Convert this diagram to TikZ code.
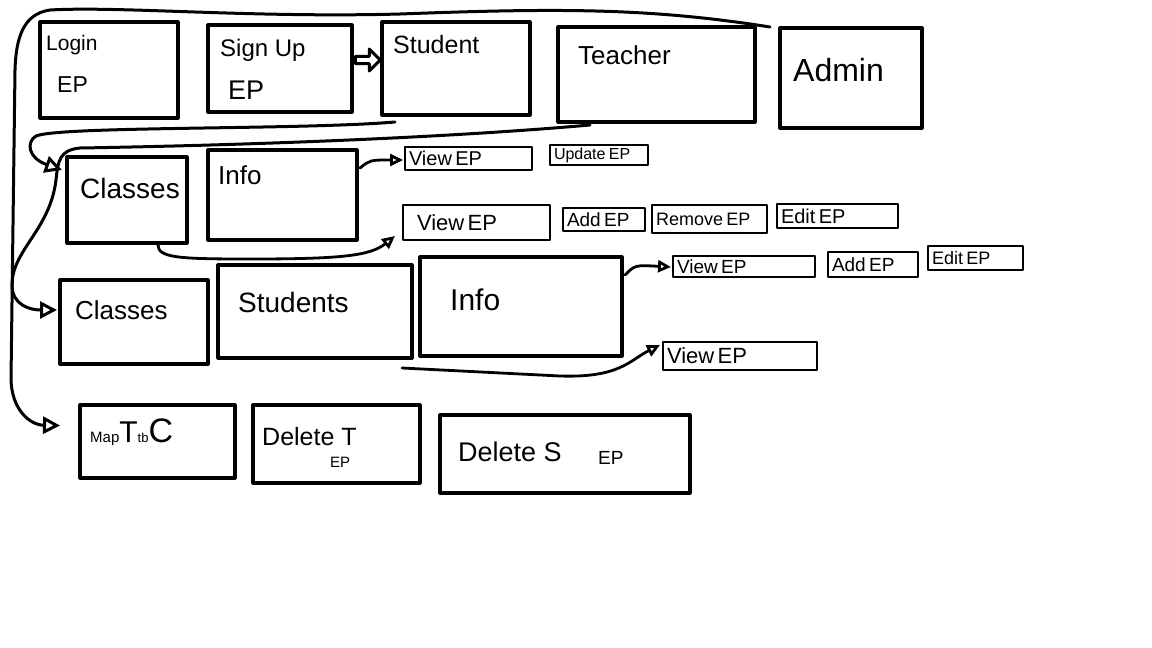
\documentclass[tikz,border=0pt]{standalone}
\usepackage{fontspec}
\setmainfont{Liberation Sans}
\usetikzlibrary{arrows.meta,shapes.arrows}
\newcommand{\fs}[1]{\fontsize{#1}{#1}\selectfont}
\begin{document}
\begin{tikzpicture}[x=1pt,y=-1pt,
  box/.style={draw,line width=3.2pt,inner sep=0pt,outer sep=0pt},
  ep/.style={draw,line width=2.8pt,inner ysep=0pt,inner xsep=4pt,outer sep=0pt,align=left},
  lbl/.style={anchor=west,inner sep=0pt},
  conn/.style={line width=3pt,line cap=round,-{Triangle[open,length=17pt,width=17pt,line width=3pt]}},
  sconn/.style={line width=2.8pt,line cap=round,-{Triangle[open,length=13pt,width=12pt,line width=2.8pt]}},
  line join=round]
\useasboundingbox (0,0) rectangle (1152,648);
\fill[white] (0,0) rectangle (1152,648);

% row 1
\node[box,minimum width=138pt,minimum height=96pt] (login) at (109,70) {};
\node[box,minimum width=144pt,minimum height=87pt] (signup) at (280,68.5) {};
\node[box,minimum width=148pt,minimum height=93pt] (student) at (456,68.5) {};
\node[box,minimum width=197pt,minimum height=95pt] (teacher) at (656.5,74.5) {};
\node[box,minimum width=142pt,minimum height=100pt] (admin) at (851,78) {};
\node[lbl] (loginT) at (46,45) {\fs{21}Login};
\node[lbl] (loginEP) at (57,85) {\fs{23}EP};
\node[lbl] (signupT) at (220,50) {\fs{24}Sign Up};
\node[lbl] (signupEP) at (228,90) {\fs{27}EP};
\node[lbl] (studentT) at (393,45) {\fs{25}Student};
\node[lbl] (teacherT) at (578,55) {\fs{26}Teacher};
\node[lbl] (adminT) at (793,70) {\fs{32}Admin};
\node[draw,single arrow,line width=3pt,minimum height=25pt,minimum width=22pt,single arrow head extend=3pt,inner sep=0pt] (blk) at (366,60) {};

% row 2
\node[box,minimum width=120pt,minimum height=86pt] (classes2) at (127,200) {};
\node[box,minimum width=149pt,minimum height=90pt] (info2) at (282.5,195) {};
\node[lbl] (classes2T) at (80,188) {\fs{28}Classes};
\node[lbl] (info2T) at (218,175) {\fs{26}Info};
\node[ep,text width=119pt,minimum height=23pt] (viewA) at (468.5,158.5) {\fs{20}View EP};
\node[ep,text width=90pt,minimum height=20pt] (update) at (599,155) {\fs{16}Update EP};
\node[ep,text width=139pt,minimum height=35pt] (viewB) at (476.5,222.5) {\hspace*{10pt}\fs{22}View EP};
\node[ep,text width=74pt,minimum height=23pt] (addA) at (604,219.5) {\fs{19}Add EP};
\node[ep,text width=107pt,minimum height=28pt] (remove) at (709.5,219) {\fs{18}Remove EP};
\node[ep,text width=113pt,minimum height=24pt] (editA) at (837.5,216) {\fs{20}Edit EP};

% row 3
\node[box,minimum width=148pt,minimum height=84pt] (classes3) at (134,322) {};
\node[box,minimum width=194pt,minimum height=93pt] (students3) at (315,311.5) {};
\node[box,minimum width=202pt,minimum height=99pt] (info3) at (521,306.5) {};
\node[lbl] (classes3T) at (75,310) {\fs{26}Classes};
\node[lbl] (students3T) at (238,302) {\fs{28}Students};
\node[lbl] (info3T) at (450,300) {\fs{30}Info};
\node[ep,text width=134pt,minimum height=21pt] (viewC) at (744,266.5) {\fs{19}View EP};
\node[ep,text width=82pt,minimum height=25pt] (addB) at (873,264.5) {\fs{19}Add EP};
\node[ep,text width=87pt,minimum height=24pt] (editB) at (975.5,258) {\fs{18}Edit EP};
\node[ep,text width=146pt,minimum height=28pt] (viewD) at (740,356) {\fs{22}View EP};

% row 4
\node[box,minimum width=155pt,minimum height=73pt] (map) at (157.5,441.5) {};
\node[box,minimum width=167pt,minimum height=78pt] (delT) at (336.5,444) {};
\node[box,minimum width=250pt,minimum height=78pt] (delS) at (565,454) {};
\node[lbl] (mapT) at (90,432) {\fs{15}Map\fs{30}T\fs{13}tb\fs{34}C};
\node[lbl] (delTT) at (262,437) {\fs{25}Delete T};
\node[lbl] (delTEP) at (330,462) {\fs{15}EP};
\node[lbl] (delST) at (458,452) {\fs{27}Delete S};
\node[lbl] (delSEP) at (598,458) {\fs{19}EP};

% connector end points
\coordinate (s1) at ([xshift=13pt,yshift=-7pt]student.south west);
\coordinate (e1) at ([xshift=-5pt,yshift=-13pt]classes2.north west);
\coordinate (s2) at ([xshift=32pt,yshift=-3pt]teacher.south west);
\coordinate (e2) at ([xshift=-3pt,yshift=12pt]classes3.west);
\coordinate (s3) at ([xshift=-10pt,yshift=1pt]admin.north west);
\coordinate (e3) at ([xshift=-20pt,yshift=16pt]map.west);
\coordinate (s4) at ([xshift=3pt,yshift=-18pt]info2.north east);
\coordinate (e4) at ([xshift=-2pt,yshift=-1.5pt]viewA.west);
\coordinate (s5) at ([xshift=-29pt,yshift=-2pt]classes2.south east);
\coordinate (e5) at ([xshift=-8pt,yshift=-13.5pt]viewB.west);
\coordinate (s6) at ([xshift=3pt,yshift=-18pt]info3.north east);
\coordinate (e6) at ([xshift=-2pt,yshift=-0.5pt]viewC.west);
\coordinate (s7) at ([xshift=-10pt,yshift=-10pt]students3.south east);
\coordinate (e7) at ([xshift=-3pt,yshift=11pt]viewD.west);

% connectors
\draw[conn] (s1) .. controls (300,130) and (60,126) .. (36,136)
  .. controls (26,142) and (28,158) .. (e1);
\draw[conn] (s2) .. controls (420,140) and (200,146) .. (80,148)
  .. controls (60,150) and (58,160) .. (56,180)
  .. controls (50,230) and (12,250) .. (12,285)
  .. controls (12,305) and (30,310) .. (e2);
\draw[conn] (s3) .. controls (650,8) and (560,8) .. (400,14)
  .. controls (250,18) and (120,6) .. (50,10)
  .. controls (22,14) and (16,40) .. (15,70)
  -- (11,380) .. controls (12,410) and (30,425) .. (e3);
\draw[sconn] (s4) .. controls (370,160) .. (e4);
\draw[sconn] (s5) .. controls (158,258) and (180,259) .. (250,259)
  .. controls (340,259) and (370,256) .. (e5);
\draw[sconn] (s6) .. controls (635,265) .. (e6);
\draw[sconn] (s7) -- (560,376) .. controls (620,378) and (630,360) .. (e7);
\end{tikzpicture}
\end{document}
